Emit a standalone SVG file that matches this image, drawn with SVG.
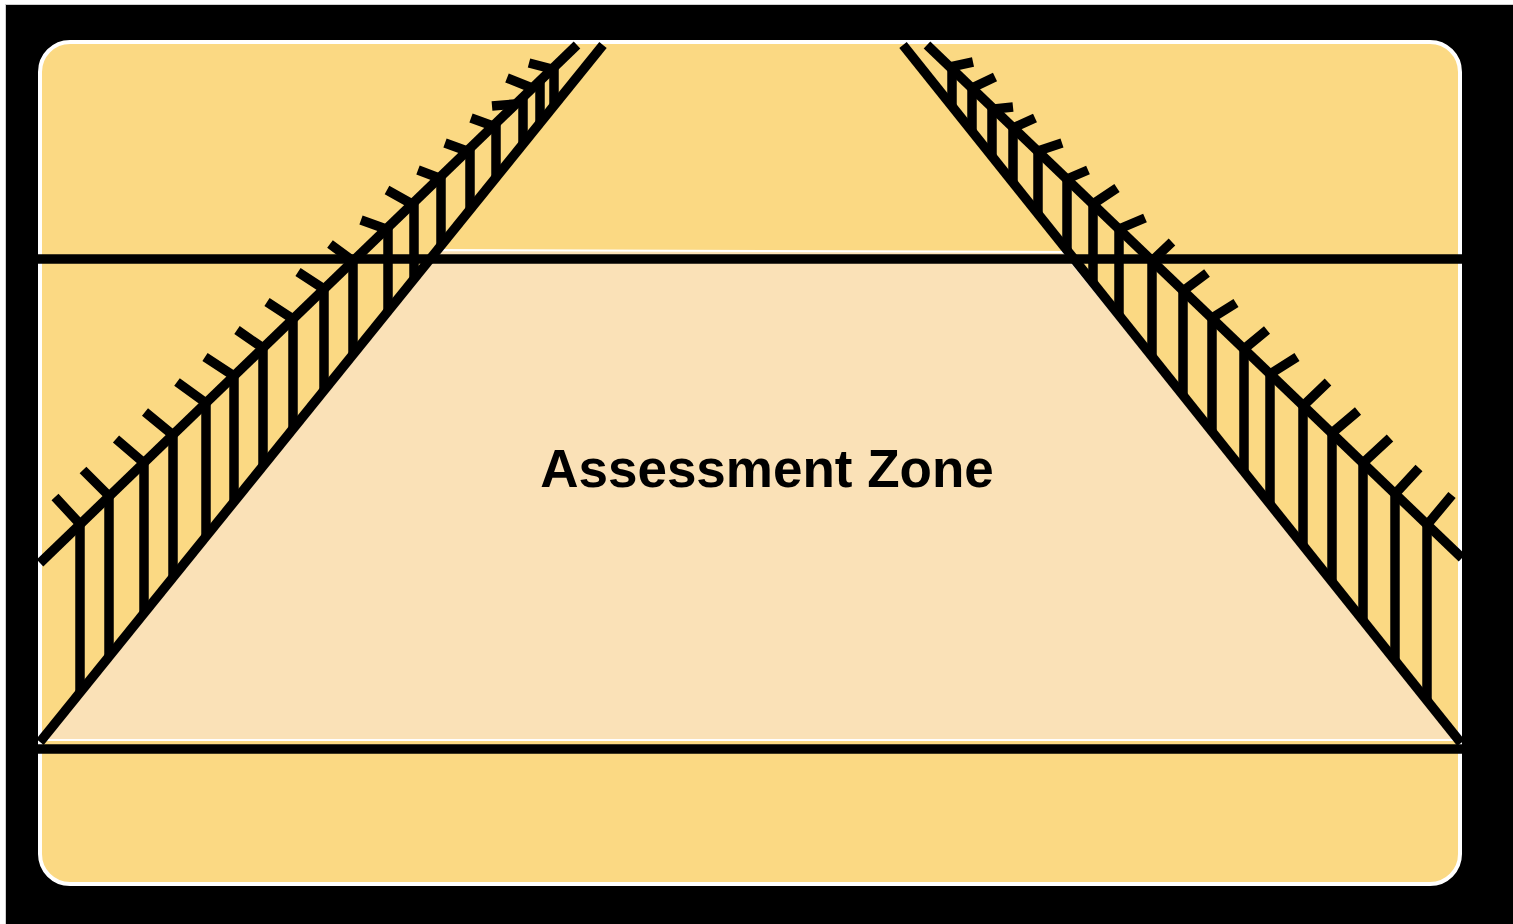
<svg xmlns="http://www.w3.org/2000/svg" width="1513" height="924" viewBox="0 0 1513 924">
<style>
.bg{fill:#000;stroke:#cfcfcf;stroke-width:1}
.panel{fill:#FBD983;stroke:#fff;stroke-width:4}
.zone{fill:#FAE1B7;stroke:#fff;stroke-width:2}
.ln{stroke:#000;stroke-width:9.5;fill:none;stroke-linecap:butt}
.lbl{font-family:"Liberation Sans",Arial,sans-serif;font-weight:bold;font-size:53px;fill:#000}
</style>
<rect width="1513" height="924" fill="#fff"/>
<rect class="bg" x="5.5" y="4.5" width="1510" height="922"/>
<g id="panel">
<rect class="panel" x="40" y="42" width="1420" height="842" rx="30" ry="30"/>
</g>
<g id="assessment-zone">
<polygon class="zone" points="437,250 1063,252 1459,740 41,740"/>
<text class="lbl" x="767" y="487" text-anchor="middle">Assessment Zone</text>
</g>
<g id="connectors">
<line class="ln" x1="38" y1="259" x2="1462" y2="259"/>
<line class="ln" x1="38" y1="749" x2="1462" y2="749"/>
</g>
<g id="fence-left" class="ln">
<line x1="40" y1="742" x2="603" y2="45"/>
<line x1="40" y1="563" x2="577" y2="45"/>
<path d="M80,524V692 M109,496V657 M144,463V613 M173,435V577 M206,403V536 M234,376V502 M263,348V466 M293,319V429 M324,289V390 M353,261V354 M388,227V311 M414,202V279 M441,176V246 M470,148V210 M496,123V177 M523,97V144 M540,80V123 M554,67V106"/>
<path d="M80,524L55,497 M109,496L83,470 M144,463L116,439 M173,435L145,412 M206,403L177,382 M234,376L205,357 M263,348L237,330 M293,319L267,302 M324,289L298,272 M353,261L330,244 M386,229L361,220 M412,204L387,190 M439,178L418,170 M467,151L445,143 M493,126L471,118 M515,104L492,106 M532,88L507,78 M552,69L529,63"/>
</g>
<g id="fence-right" class="ln">
<line x1="903" y1="45" x2="1461" y2="743"/>
<line x1="927" y1="45" x2="1462" y2="558"/>
<path d="M952,69V106 M972,88V131 M992,107V156 M1013,128V183 M1038,151V214 M1067,179V250 M1093,204V283 M1119,229V315 M1152,261V357 M1183,291V395 M1212,318V432 M1244,349V472 M1270,374V504 M1303,406V545 M1332,433V582 M1363,463V621 M1395,494V661 M1427,525V701"/>
<path d="M950,67L973,62 M972,88L995,77 M994,109L1013,107 M1013,128L1035,118 M1038,151L1062,143 M1067,179L1088,170 M1093,204L1117,188 M1119,229L1145,218 M1152,261L1172,242 M1183,291L1207,273 M1212,318L1236,303 M1244,349L1267,330 M1270,374L1297,357 M1303,406L1328,382 M1332,433L1358,411 M1363,463L1390,438 M1395,494L1419,468 M1427,525L1452,495"/>
</g>
</svg>
